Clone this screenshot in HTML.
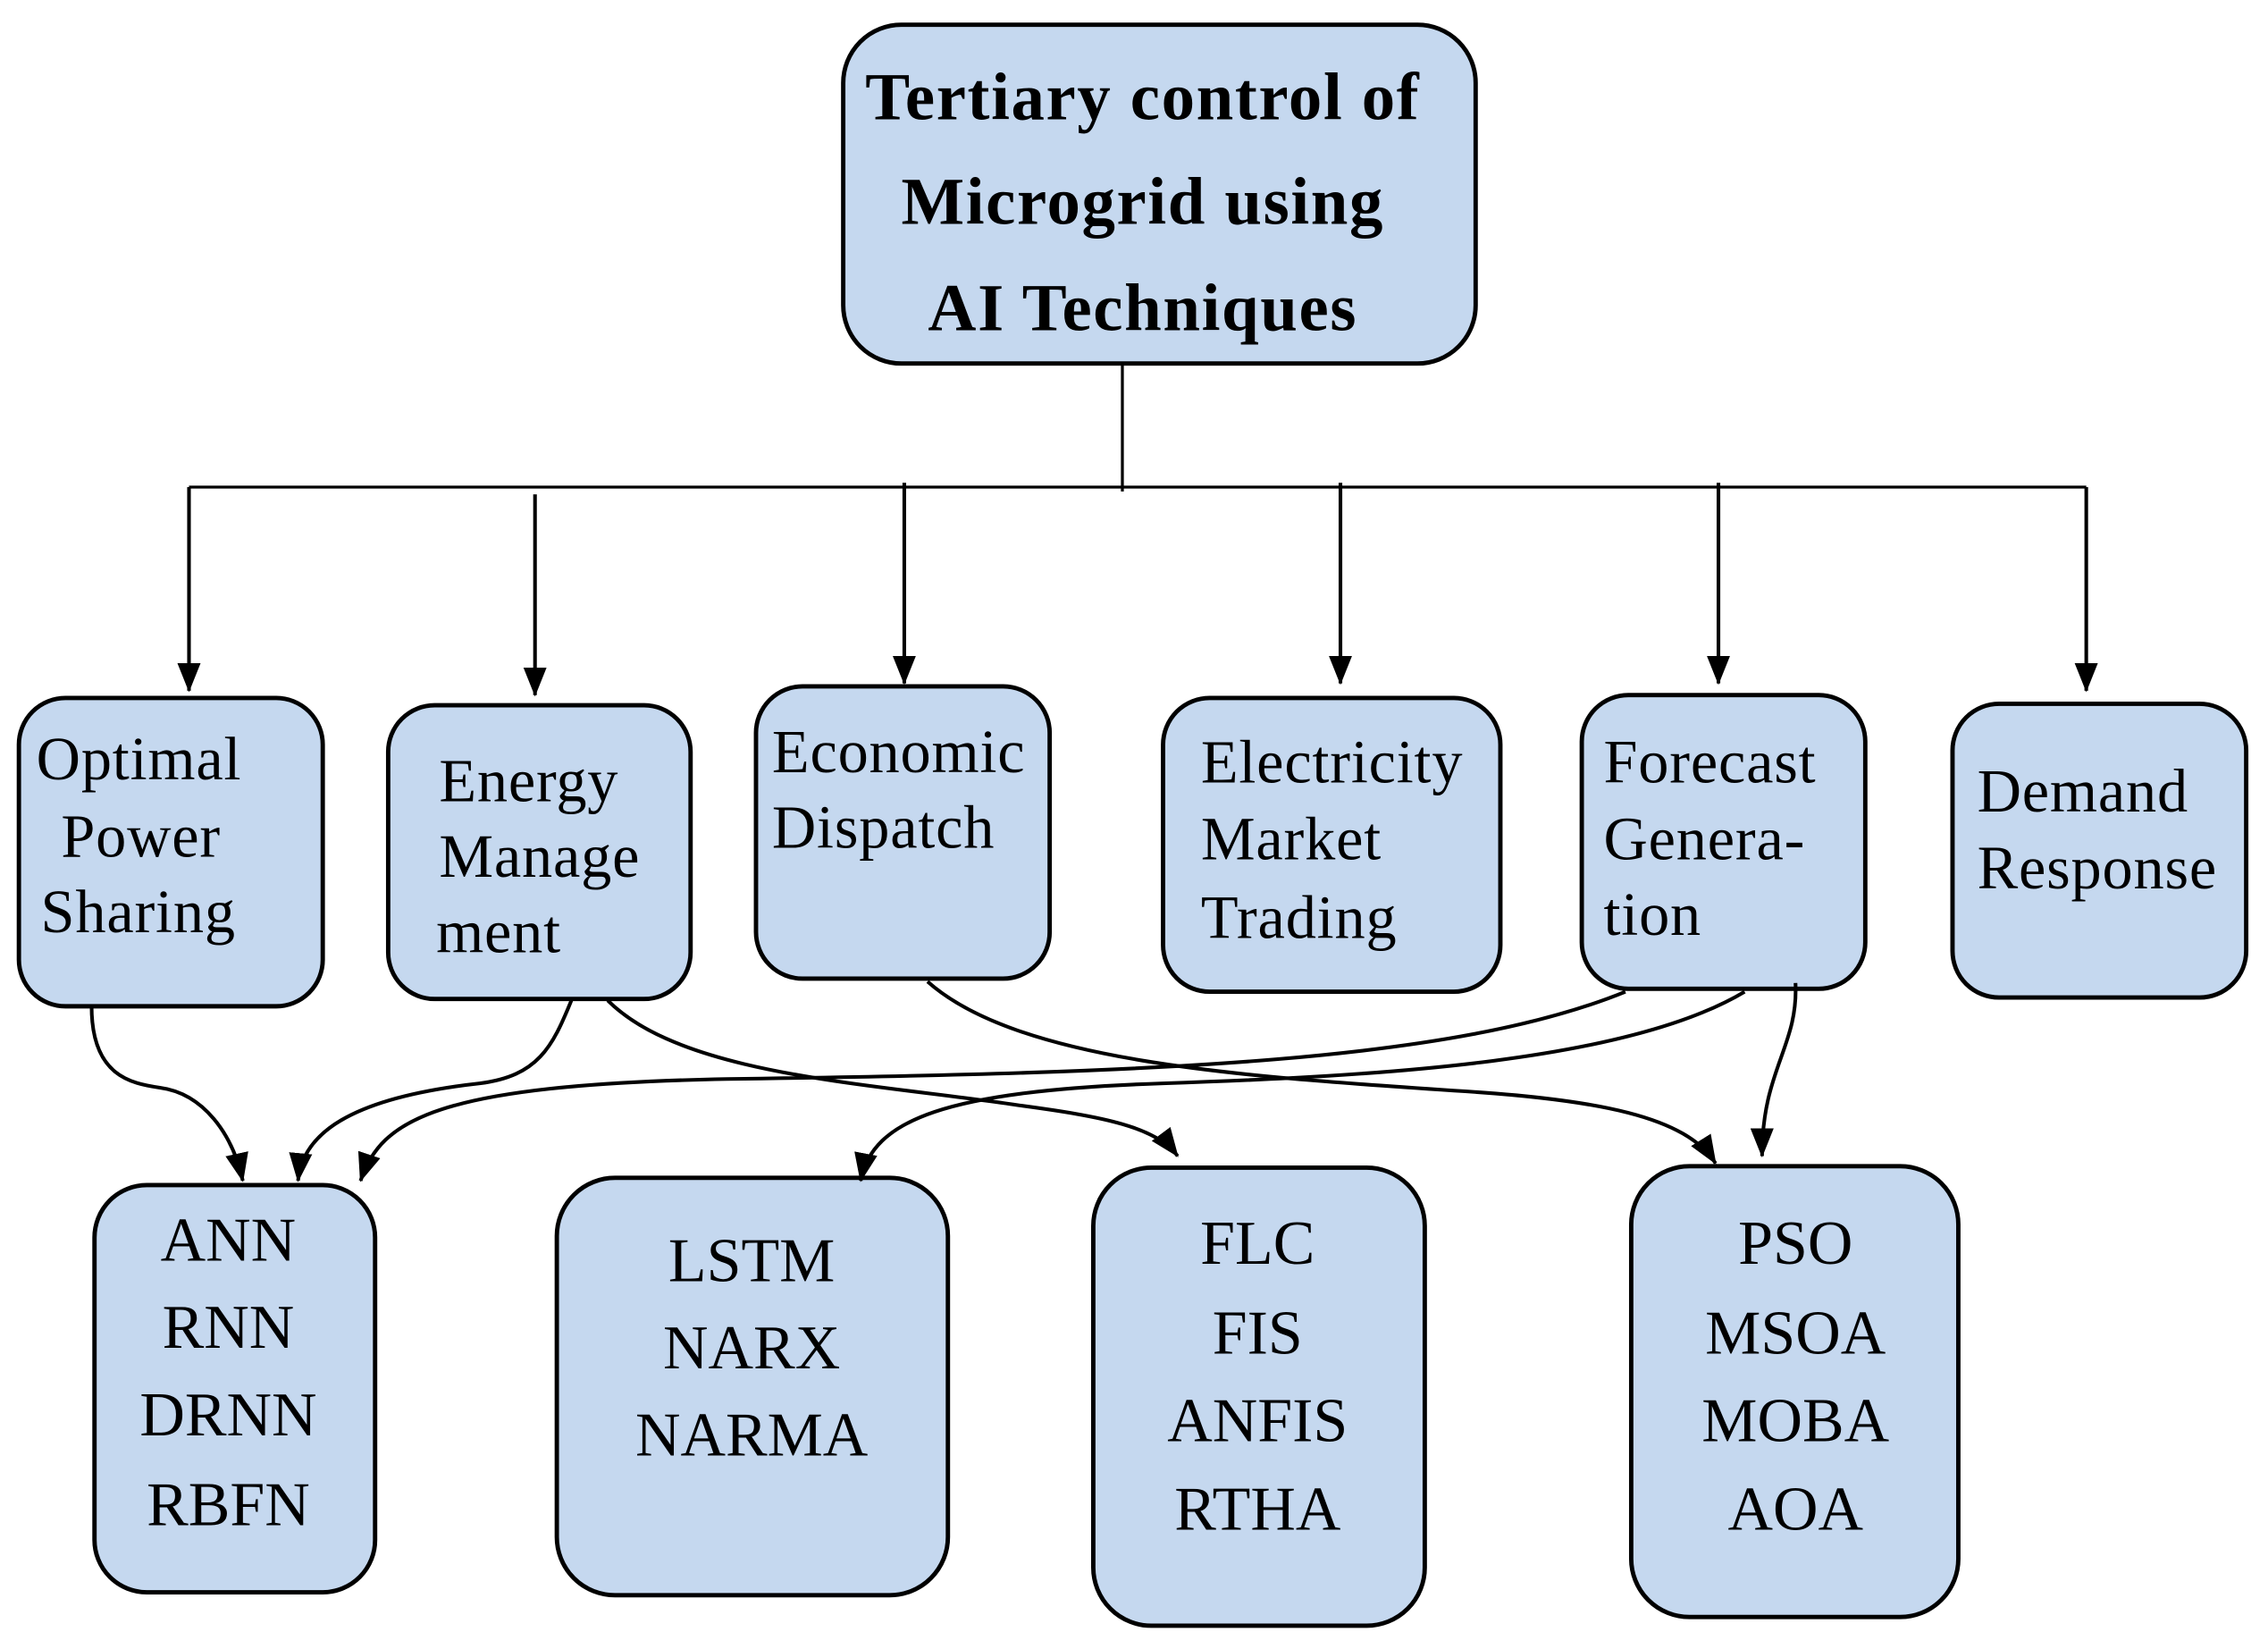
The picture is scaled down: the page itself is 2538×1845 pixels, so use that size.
<!DOCTYPE html>
<html><head><meta charset="utf-8"><style>
html,body{margin:0;padding:0;background:#fff;}
svg{display:block;}
text{font-family:"Liberation Serif",serif;fill:#000;}
</style></head><body>
<svg width="2538" height="1845" viewBox="0 0 1560 1134" preserveAspectRatio="none" xmlns="http://www.w3.org/2000/svg">
<defs>
<marker id="ah" viewBox="0 0 20 16" refX="19" refY="8" markerWidth="20" markerHeight="16" orient="auto" markerUnits="userSpaceOnUse">
<path d="M0,0 L20,8 L0,16 Z" fill="#000"/>
</marker>
</defs>
<g fill="#c5d8ef" stroke="#000" stroke-width="3">
<rect x="580" y="17" width="435" height="233" rx="40"/>
<rect x="13" y="480" width="209" height="212" rx="32"/>
<rect x="267" y="485" width="208" height="202" rx="32"/>
<rect x="520" y="472" width="202" height="201" rx="32"/>
<rect x="800" y="480" width="232" height="202" rx="32"/>
<rect x="1088" y="478" width="195" height="202" rx="32"/>
<rect x="1343" y="484" width="202" height="202" rx="32"/>
<rect x="65" y="815" width="193" height="280" rx="36"/>
<rect x="383" y="810" width="269" height="287" rx="40"/>
<rect x="752" y="803" width="228" height="315" rx="40"/>
<rect x="1122" y="802" width="225" height="310" rx="40"/>
</g>
<g stroke="#000" stroke-width="2" fill="none">
<line x1="772" y1="250" x2="772" y2="338"/>
<line x1="130" y1="335" x2="1435" y2="335"/>
</g>
<g stroke="#000" stroke-width="2.5" fill="none" marker-end="url(#ah)">
<line x1="130" y1="335" x2="130" y2="475"/>
<line x1="368" y1="340" x2="368" y2="478"/>
<line x1="622" y1="332" x2="622" y2="470"/>
<line x1="922" y1="332" x2="922" y2="470"/>
<line x1="1182" y1="332" x2="1182" y2="470"/>
<line x1="1435" y1="335" x2="1435" y2="475"/>
<path d="M63,692 C63,740 90,745 110,748 C140,752 160,780 167,812"/>
<path d="M393,688 C380,720 370,740 330,745 C240,755 208,780 205,812"/>
<path d="M1118,682 C1000,730 800,738 500,742 C300,746 262,770 248,812"/>
<path d="M418,688 C470,740 600,745 700,760 C760,768 795,775 810,795"/>
<path d="M638,675 C700,730 850,740 1000,750 C1100,756 1160,768 1180,800"/>
<path d="M1200,682 C1120,730 950,740 800,745 C650,750 600,770 592,812"/>
<path d="M1235,676 C1237,720 1212,735 1212,795"/>
</g>
<g font-weight="bold" font-size="46" letter-spacing="1" text-anchor="middle">
<text x="786" y="82">Tertiary control of</text>
<text x="786" y="154">Microgrid using</text>
<text x="786" y="227">AI Techniques</text>
</g>
<g font-size="42" letter-spacing="0.5">
<text x="25" y="536">Optimal</text>
<text x="42" y="589">Power</text>
<text x="28" y="641">Sharing</text>
<text x="302" y="551">Energy</text>
<text x="302" y="603">Manage</text>
<text x="300" y="655">ment</text>
<text x="531" y="531">Economic</text>
<text x="531" y="583">Dispatch</text>
<text x="826" y="538">Electricity</text>
<text x="826" y="591">Market</text>
<text x="826" y="645">Trading</text>
<text x="1103" y="538">Forecast</text>
<text x="1103" y="591">Genera-</text>
<text x="1103" y="643">tion</text>
<text x="1360" y="558">Demand</text>
<text x="1360" y="611">Response</text>
</g>
<g font-size="43" text-anchor="middle">
<text x="157" y="867">ANN</text>
<text x="157" y="927">RNN</text>
<text x="157" y="987">DRNN</text>
<text x="157" y="1049">RBFN</text>
<text x="517" y="881">LSTM</text>
<text x="517" y="941">NARX</text>
<text x="517" y="1001">NARMA</text>
<text x="865" y="869">FLC</text>
<text x="865" y="931">FIS</text>
<text x="865" y="991">ANFIS</text>
<text x="865" y="1052">RTHA</text>
<text x="1235" y="869">PSO</text>
<text x="1235" y="931">MSOA</text>
<text x="1235" y="991">MOBA</text>
<text x="1235" y="1052">AOA</text>
</g>
</svg>
</body></html>
